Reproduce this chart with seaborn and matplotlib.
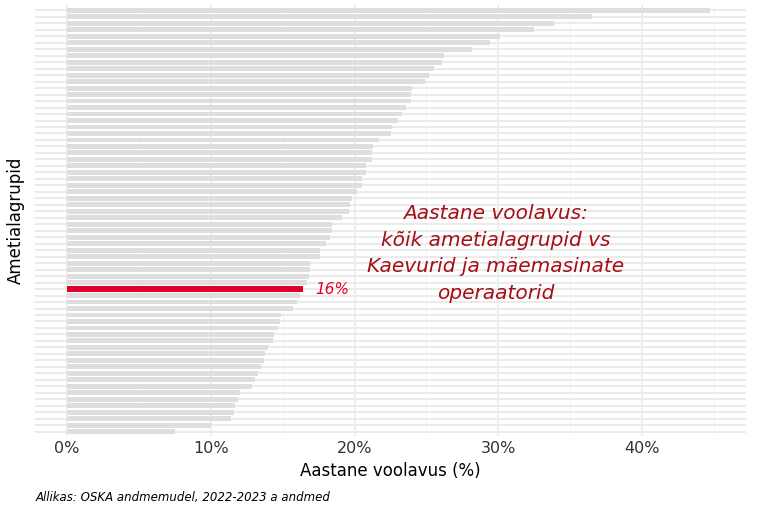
import matplotlib
matplotlib.use("Agg")
import matplotlib.pyplot as plt
import seaborn as sns
import pandas as pd
import numpy as np
from matplotlib.ticker import FuncFormatter, MultipleLocator

values = [44.7, 36.5, 33.9, 32.5, 30.1, 29.4, 28.2, 26.2, 26.1, 25.5, 25.2, 24.9,
          24.0, 23.9, 23.9, 23.6, 23.3, 23.0, 22.6, 22.5, 21.7, 21.3, 21.2, 21.2,
          20.8, 20.8, 20.5, 20.5, 20.2, 19.8, 19.7, 19.6,
          19.1, 18.4, 18.4, 18.3, 18.0, 17.6, 17.6, 16.9, 16.9, 16.8, 16.7, 16.4,
          16.2, 16.0, 15.7, 14.9, 14.8, 14.7, 14.4, 14.3, 14.0, 13.8, 13.7, 13.5,
          13.3, 13.1, 12.9, 12.0, 11.9, 11.7, 11.6, 11.4, 10.0, 7.5]
groups = [f"g{i}" for i in range(len(values))]
highlight = "g43"
label = "16%"

df = pd.DataFrame({"grupp": groups, "voolavus": values})
df["hl"] = np.where(df["grupp"] == highlight, "yes", "no")

fig = plt.figure(figsize=(7.68, 5.12), dpi=100)
ax = fig.add_axes([0.046, 0.148, 0.925, 0.842])
sns.barplot(data=df, y="grupp", x="voolavus", hue="hl", palette={"no": "#dedede", "yes": "#e0002d"},
            orient="h", width=0.75, saturation=1, legend=False, ax=ax, zorder=2)
for p in ax.patches:
    fc = p.get_facecolor()
    if fc[0] > 0.8 and fc[1] < 0.2:
        c = p.get_y() + p.get_height() / 2
        p.set_height(0.85); p.set_y(c - 0.425)
hi = groups.index(highlight)
ax.text(values[hi] + 0.9, hi, label, color="#e0002d", style="italic", va="center", fontsize=11)
ax.text(29.8, 37.5, "Aastane voolavus:\nkõik ametialagrupid vs\nKaevurid ja mäemasinate\noperaatorid",
        color="#a50f15", style="italic", fontsize=14.5, ha="center", va="center", linespacing=1.5)

ax.set_xlim(-2.2, 47.2)
ax.set_ylim(len(values) - 0.3, -0.8)
ax.xaxis.set_major_locator(MultipleLocator(10))
ax.xaxis.set_minor_locator(MultipleLocator(5))
ax.xaxis.set_major_formatter(FuncFormatter(lambda v, p: f"{v:.0f}%"))
ax.grid(axis="x", which="major", color="#ebebeb", lw=1.2, zorder=0)
ax.grid(axis="x", which="minor", color="#f3f3f3", lw=0.6, zorder=0)
ax.grid(axis="y", color="#ebebeb", lw=1.5, zorder=0)
ax.set_axisbelow(True)
ax.set_yticklabels([])
ax.tick_params(which="both", length=0, labelsize=11.5, colors="#333333")
for s in ax.spines.values():
    s.set_visible(False)
ax.set_xlabel("Aastane voolavus (%)", fontsize=12)
ax.set_ylabel("Ametialagrupid", fontsize=12)
fig.text(0.046, 0.022, "Allikas: OSKA andmemudel, 2022-2023 a andmed", style="italic", fontsize=8.5)
fig.savefig("out.png", dpi=100)
